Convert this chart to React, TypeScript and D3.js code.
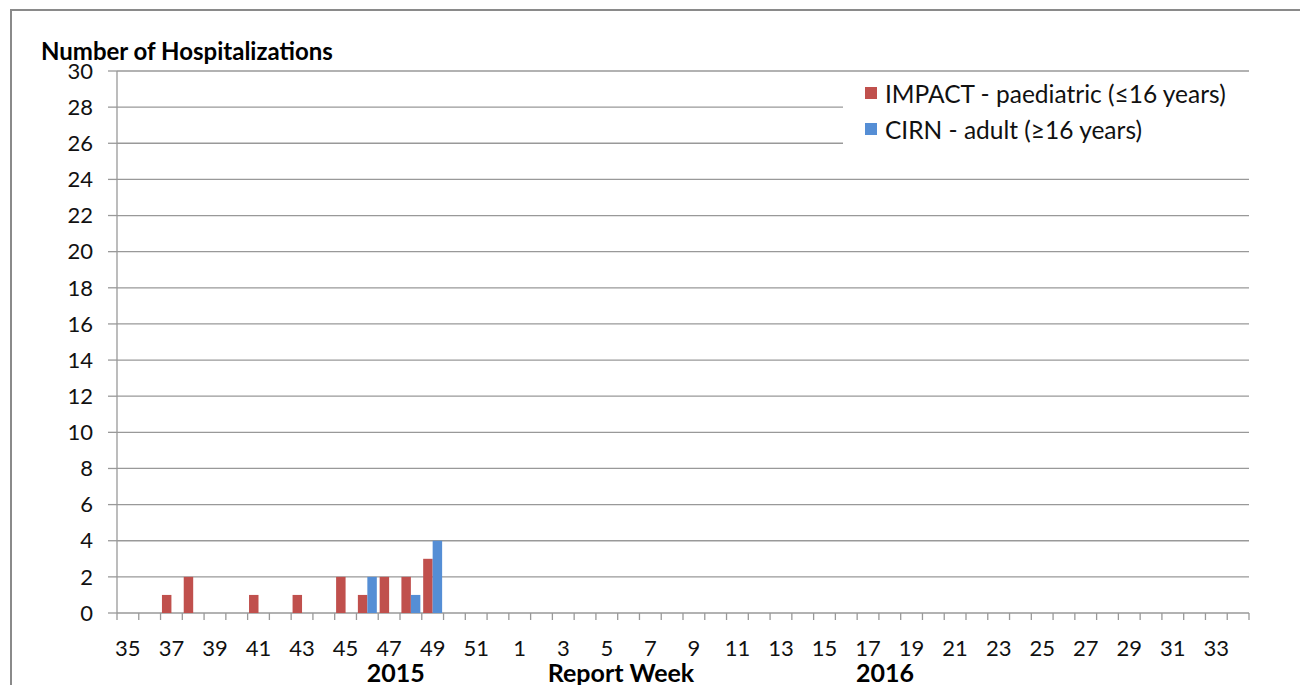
import React from "react";
import * as d3 from "d3";

const weeks: string[] = [
  "35","36","37","38","39","40","41","42","43","44","45","46","47","48","49","50","51","52",
  "1","2","3","4","5","6","7","8","9","10","11","12","13","14","15","16","17","18","19","20",
  "21","22","23","24","25","26","27","28","29","30","31","32","33","34",
];
const impactValues: number[] = [
  0,0,1,2,0,0,1,0,1,0,2,1,2,2,3,0,0,0,
  0,0,0,0,0,0,0,0,0,0,0,0,0,0,0,0,0,0,0,0,0,0,0,0,0,0,0,0,0,0,0,0,0,0,
];
const cirnValues: number[] = [
  0,0,0,0,0,0,0,0,0,0,0,2,0,1,4,0,0,0,
  0,0,0,0,0,0,0,0,0,0,0,0,0,0,0,0,0,0,0,0,0,0,0,0,0,0,0,0,0,0,0,0,0,0,
];
const seriesNames: string[] = ["IMPACT - paediatric (≤16 years)", "CIRN - adult (≥16 years)"];
const seriesColors: string[] = ["#C0504D", "#558ED5"];
const yTicks: number[] = [0,2,4,6,8,10,12,14,16,18,20,22,24,26,28,30];
const yearLabels: { label: string; week: string; frac: number }[] = [
  { label: "2015", week: "47", frac: 0.8 },
  { label: "2016", week: "18", frac: 0.28 },
];

const FONT = "Lato, 'Open Sans', sans-serif";

export default function App() {
  const left = 117, right = 1249, top = 71, bottom = 613;
  const x = d3.scaleBand<string>().domain(weeks).range([left, right]).paddingInner(0).paddingOuter(0);
  const bw = x.bandwidth();
  const xs = d3.scaleBand<string>().domain(seriesNames).range([bw * 0.065, bw * 0.935]);
  const y = d3.scaleLinear().domain([0, 30]).range([bottom, top]);
  const all = [impactValues, cirnValues];
  const gridColor = "#999999";

  return (
    <div style={{ position: "absolute", left: 0, top: 0 }}>
      <svg width={1300} height={685} style={{ display: "block", background: "#fff" }}>
        <path d="M11,685 V10 H1300" fill="none" stroke="#8a8a8a" strokeWidth={2} />
        {yTicks.filter((t) => t > 0).map((t) => (
          <line key={"g" + t} x1={left} x2={right} y1={y(t)} y2={y(t)} stroke={gridColor} strokeWidth={1.3} />
        ))}
        {yTicks.map((t) => (
          <g key={"yt" + t}>
            <line x1={108} x2={left} y1={y(t)} y2={y(t)} stroke={gridColor} strokeWidth={1.3} />
            <text x={93} y={y(t)} dy="0.35em" textAnchor="end" fontFamily={FONT} fontSize={22} fill="#111">{t}</text>
          </g>
        ))}
        <line x1={left} x2={left} y1={top} y2={bottom + 7} stroke={gridColor} strokeWidth={1.3} />
        <line x1={left} x2={right} y1={bottom} y2={bottom} stroke={gridColor} strokeWidth={1.3} />
        {weeks.map((w) => (
          <line key={"xt" + w} x1={(x(w) as number) + bw} x2={(x(w) as number) + bw} y1={bottom} y2={bottom + 7} stroke={gridColor} strokeWidth={1.3} />
        ))}
        {weeks.map((w, i) =>
          i % 2 === 0 ? (
            <text key={"xl" + w} x={(x(w) as number) + bw / 2} y={656} textAnchor="middle" fontFamily={FONT} fontSize={22} fill="#111">{w}</text>
          ) : null
        )}
        {all.map((vals, si) =>
          vals.map((v, i) =>
            v > 0 ? (
              <rect key={"b" + si + "-" + i}
                x={(x(weeks[i]) as number) + (xs(seriesNames[si]) as number)}
                y={y(v)} width={xs.bandwidth()} height={y(0) - y(v)}
                fill={seriesColors[si]} />
            ) : null
          )
        )}
        <rect x={843} y={75} width={406} height={85} fill="#fff" />
        {seriesNames.map((s, i) => (
          <g key={"lg" + s}>
            <rect x={865} y={87 + i * 36} width={12} height={12} fill={seriesColors[i]} />
            <text x={885} y={103 + i * 36} fontFamily={FONT} fontSize={24.5} fill="#111">{s}</text>
          </g>
        ))}
        <text x={41} y={60} fontFamily={FONT} fontSize={24} fontWeight="bold" fill="#000">Number of Hospitalizations</text>
        {yearLabels.map((yl) => (
          <text key={yl.label} x={(x(yl.week) as number) + bw * yl.frac} y={682} textAnchor="middle" fontFamily={FONT} fontSize={25} fontWeight="bold" fill="#000">{yl.label}</text>
        ))}
        <text x={621} y={682} textAnchor="middle" fontFamily={FONT} fontSize={25} fontWeight="bold" fill="#000">Report Week</text>
      </svg>
    </div>
  );
}
